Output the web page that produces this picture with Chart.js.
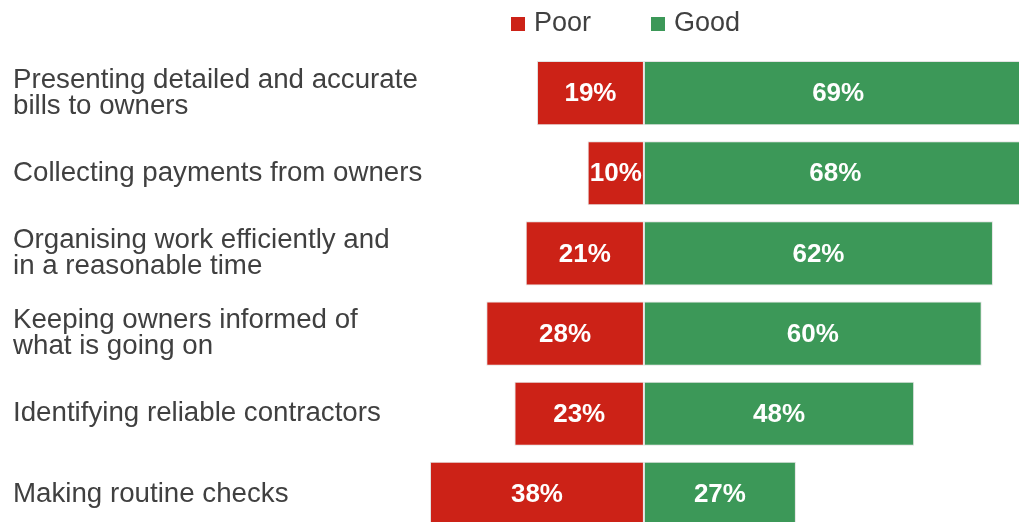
<!DOCTYPE html>
<html>
<head>
<meta charset="utf-8">
<script src="https://cdn.jsdelivr.net/npm/chart.js@4"></script>
<style>
    html, body { margin: 0; padding: 0; background: #fff; overflow: hidden; }
    #wrap { position: relative; width: 1040px; height: 540px; }
    #surveyChart { display: block; }
    #legend {
        position: absolute; left: 511px; top: 9px;
        display: flex; align-items: center;
        font-family: "Liberation Sans", Arial, sans-serif; font-size: 27px; line-height: 27px;
        color: #404040;
    }
    #legend .item { display: flex; align-items: center; }
    #legend .box { width: 14px; height: 14px; margin-right: 9px; margin-top: 3px; }
</style>
</head>
<body>
<div id="wrap">
    <canvas id="surveyChart" width="1040" height="540"></canvas>
    <div id="legend"></div>
</div>
<script>
// Survey results: share rating each task as poor / good
const tasks = [
    ["Presenting detailed and accurate", "bills to owners"],
    "Collecting payments from owners",
    ["Organising work efficiently and", "in a reasonable time"],
    ["Keeping owners informed of", "what is going on"],
    "Identifying reliable contractors",
    "Making routine checks"
];
const poor = [19, 10, 21, 28, 23, 38];
const good = [69, 68, 62, 60, 48, 27];

const seriesNames = ["Poor", "Good"];
const seriesColors = ["#cc2217", "#3c9858"];

// Simple legend above the bars
const legend = document.getElementById("legend");
seriesNames.forEach((name, i) => {
    const item = document.createElement("div");
    item.className = "item";
    item.style.marginRight = i === 0 ? "60px" : "0";
    item.innerHTML = `<span class="box" style="background:${seriesColors[i]}"></span><span>${name}</span>`;
    legend.appendChild(item);
});

// Writes the percentage inside each bar
const barValueLabels = {
    id: "barValueLabels",
    afterDatasetsDraw(chart) {
        const ctx = chart.ctx;
        ctx.save();
        ctx.font = "bold 26px 'Liberation Sans', Arial, sans-serif";
        ctx.fillStyle = "#ffffff";
        ctx.textAlign = "center";
        ctx.textBaseline = "middle";
        chart.data.datasets.forEach((ds, di) => {
            chart.getDatasetMeta(di).data.forEach((bar, i) => {
                const v = Math.abs(ds.data[i]);
                ctx.fillText(v + "%", (bar.x + bar.base) / 2, bar.y + 1);
            });
        });
        ctx.restore();
    }
};

const ctx = document.getElementById("surveyChart").getContext("2d");

new Chart(ctx, {
    type: "bar",
    data: {
        labels: tasks,
        datasets: [
            {
                label: seriesNames[0],
                data: poor.map(v => -v), // poor runs to the left of zero
                backgroundColor: seriesColors[0],
                borderColor: "#e3e3e3",
                borderWidth: 1,
                borderSkipped: false,
            },
            {
                label: seriesNames[1],
                data: good,
                backgroundColor: seriesColors[1],
                borderColor: "#e3e3e3",
                borderWidth: 1,
                borderSkipped: false,
            },
        ],
    },
    options: {
        indexAxis: "y",
        responsive: false,
        animation: false,
        layout: {
            padding: { left: 13, top: 53, right: 2, bottom: 6 },
        },
        plugins: {
            legend: { display: false },
            tooltip: { enabled: false },
        },
        datasets: {
            bar: { barPercentage: 0.8, categoryPercentage: 1 },
        },
        scales: {
            x: {
                stacked: true,
                display: false,
                min: -38,
                max: 70,
            },
            y: {
                stacked: true,
                grid: { display: false, drawTicks: false },
                border: { display: false },
                afterFit(scale) {
                    // fixed label column, no extra room above/below the rows
                    scale.width = 417;
                    scale.paddingTop = 0;
                    scale.paddingBottom = 0;
                },
                ticks: {
                    crossAlign: "far",
                    color: "#404040",
                    font: {
                        family: "'Liberation Sans', Arial, sans-serif",
                        size: 27.7,
                        lineHeight: 0.94,
                    },
                },
            },
        },
    },
    plugins: [barValueLabels],
});
</script>
</body>
</html>
